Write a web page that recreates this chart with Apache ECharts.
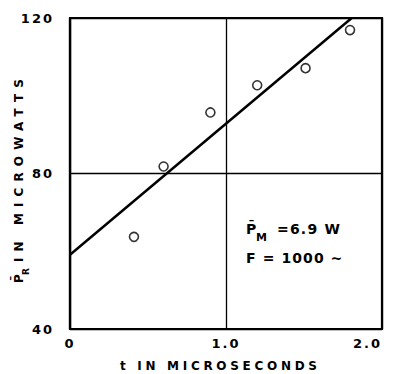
<!DOCTYPE html>
<html>
<head>
<meta charset="utf-8">
<script src="https://cdn.jsdelivr.net/npm/echarts@6/dist/echarts.min.js"></script>
<style>
  html, body { margin: 0; padding: 0; background: #fff; }
  #chart { width: 396px; height: 374px; }
</style>
</head>
<body>
<div id="chart"></div>
<script>
// Measured received power versus pulse time
const timeUs = [0.41, 0.60, 0.90, 1.20, 1.51, 1.795];
const powerUw = [63.7, 81.8, 95.7, 102.7, 107.1, 116.9];

// Straight-line fit drawn through the measurements
const fitTime = [0, 1.806];
const fitPower = [59.1, 120];

// Axis ticks
const xTicks = [0, 1, 2];
const xTickLabels = ['0', '1.0', '2.0'];
const yTicks = [40, 80, 120];

const FONT = 'DejaVu Sans';

// Hand-lettered look: extra tracking per text run (px)
const tracking = {
  't IN MICROSECONDS': 3.7,
  'IN MICROWATTS': 6.1,
  '=6.9 W': 1.2,
  'F = 1000 \u223C': 1.1
};
const tickTracking = 2;

const chart = echarts.init(document.getElementById('chart'), null, { renderer: 'svg' });

chart.setOption({
  backgroundColor: '#fff',
  animation: false,
  grid: {
    left: 70, right: 14, top: 18, bottom: 45,
    show: true, borderColor: '#000', borderWidth: 2.2, backgroundColor: 'transparent'
  },
  xAxis: {
    type: 'value',
    min: xTicks[0], max: xTicks[xTicks.length - 1], interval: 1,
    axisLine: { show: true, lineStyle: { color: '#000', width: 2.2 } },
    axisTick: { show: false },
    splitLine: { show: true, lineStyle: { color: '#000', width: 1.3 } },
    axisLabel: {
      color: '#000', fontFamily: FONT, fontWeight: 'bold', fontSize: 13, margin: 8,
      alignMaxLabel: 'right',
      formatter: v => xTickLabels[xTicks.indexOf(v)]
    }
  },
  yAxis: {
    type: 'value',
    min: yTicks[0], max: yTicks[yTicks.length - 1], interval: 40,
    axisLine: { show: true, lineStyle: { color: '#000', width: 2.2 } },
    axisTick: { show: false },
    splitLine: { show: true, lineStyle: { color: '#000', width: 1.3 } },
    axisLabel: { color: '#000', fontFamily: FONT, fontWeight: 'bold', fontSize: 13, margin: 16 }
  },
  series: [
    {
      type: 'line',
      data: fitTime.map((t, i) => [t, fitPower[i]]),
      symbol: 'none',
      lineStyle: { color: '#000', width: 2.5 },
      z: 3
    },
    {
      type: 'scatter',
      data: timeUs.map((t, i) => [t, powerUw[i]]),
      symbol: 'circle',
      symbolSize: 9,
      itemStyle: { color: '#fff', borderColor: '#000', borderWidth: 1.6 },
      z: 4
    }
  ],
  graphic: [
    // x-axis title
    {
      type: 'text', x: 120, y: 366, z: 10,
      style: {
        text: 't IN MICROSECONDS', fill: '#000',
        font: 'bold 12px ' + FONT, textAlign: 'left', textVerticalAlign: 'middle'
      }
    },
    // y-axis title, reading bottom to top
    {
      type: 'group', x: 18.5, y: 283, rotation: Math.PI / 2, z: 10,
      children: [
        {
          type: 'text', x: 0, y: 0,
          style: { text: 'P\u0304', fill: '#000', font: 'bold 12px ' + FONT, textAlign: 'left', textVerticalAlign: 'middle' }
        },
        {
          type: 'text', x: 8, y: 7,
          style: { text: 'R', fill: '#000', font: 'bold 9px ' + FONT, textAlign: 'left', textVerticalAlign: 'middle' }
        },
        {
          type: 'text', x: 21, y: 0,
          style: { text: 'IN MICROWATTS', fill: '#000', font: 'bold 12px ' + FONT, textAlign: 'left', textVerticalAlign: 'middle' }
        }
      ]
    },
    // operating conditions
    {
      type: 'text', x: 246, y: 229, z: 10,
      style: { text: 'P\u0304', fill: '#000', font: 'bold 14px ' + FONT, textAlign: 'left', textVerticalAlign: 'middle' }
    },
    {
      type: 'text', x: 256, y: 237, z: 10,
      style: { text: 'M', fill: '#000', font: 'bold 11px ' + FONT, textAlign: 'left', textVerticalAlign: 'middle' }
    },
    {
      type: 'text', x: 277, y: 229, z: 10,
      style: { text: '=6.9 W', fill: '#000', font: 'bold 14px ' + FONT, textAlign: 'left', textVerticalAlign: 'middle' }
    },
    {
      type: 'text', x: 246, y: 258, z: 10,
      style: { text: 'F = 1000 \u223C', fill: '#000', font: 'bold 14px ' + FONT, textAlign: 'left', textVerticalAlign: 'middle' }
    }
  ]
});

// Apply letter tracking to the rendered SVG text runs
function applyTracking() {
  document.querySelectorAll('#chart svg text').forEach(el => {
    const s = el.textContent.trim();
    if (tracking[s] !== undefined) {
      el.setAttribute('letter-spacing', tracking[s]);
    } else if (/^[0-9.]+$/.test(s)) {
      el.setAttribute('letter-spacing', tickTracking);
    }
  });
}
applyTracking();
chart.on('finished', applyTracking);
</script>
</body>
</html>
